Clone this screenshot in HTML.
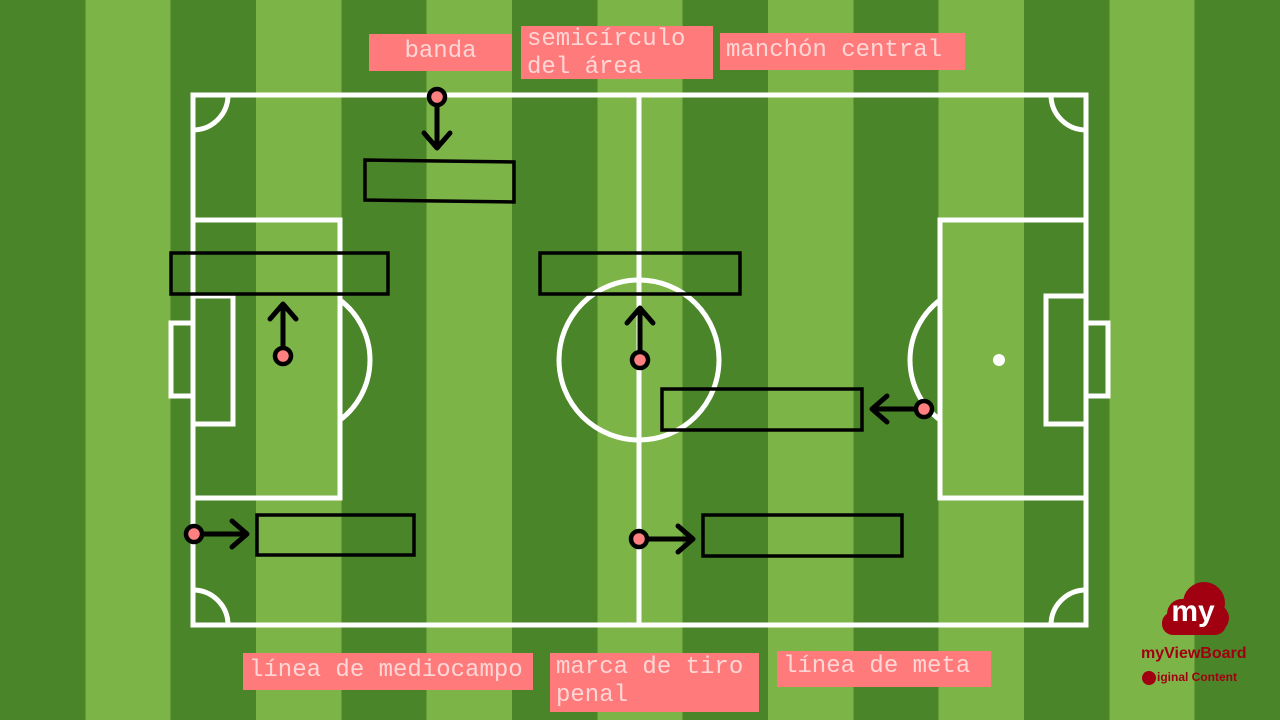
<!DOCTYPE html>
<html><head><meta charset="utf-8"><style>
html,body{margin:0;padding:0;width:1280px;height:720px;overflow:hidden}
.bg{position:absolute;left:0;top:0;width:1280px;height:720px;background:repeating-linear-gradient(90deg,#4a8529 0,#4a8529 85.33px,#7db448 85.33px,#7db448 170.67px)}
.l{position:absolute;background:#ff7b7b;color:#ffd6d6;font-family:"Liberation Mono",monospace;font-size:24px;line-height:28px;padding:4px 6px;box-sizing:border-box;white-space:pre}
svg{position:absolute;left:0;top:0}
.logo{position:absolute;font-family:"Liberation Sans",sans-serif;font-weight:bold;color:#a00010}
</style></head><body>
<div class="bg"></div>
<svg width="1280" height="720">
<g fill="none" stroke="#fff" stroke-width="5">
<rect x="193" y="95" width="893" height="530"/>
<line x1="639" y1="95" x2="639" y2="625"/>
<circle cx="639" cy="360" r="80"/>
<rect x="193" y="220" width="147" height="278"/>
<rect x="193" y="296" width="40" height="128"/>
<rect x="171" y="323" width="22" height="73"/>
<path d="M340 300 A75 75 0 0 1 340 420"/>
<rect x="940" y="220" width="146" height="278"/>
<rect x="1046" y="296" width="40" height="128"/>
<rect x="1086" y="323" width="22" height="73"/>
<path d="M940 300 A75 75 0 0 0 940 420"/>
<path d="M228 95 A35 35 0 0 1 193 130"/>
<path d="M1051 95 A35 35 0 0 0 1086 130"/>
<path d="M193 590 A35 35 0 0 1 228 625"/>
<path d="M1086 590 A35 35 0 0 0 1051 625"/>
</g>
<circle cx="999" cy="360" r="6" fill="#fff"/>
<g fill="none" stroke="#000" stroke-width="3.5">
<polygon points="365,160 514,162 514,202 365,200"/>
<rect x="171" y="253" width="217" height="41"/>
<rect x="540" y="253" width="200" height="41"/>
<rect x="662" y="389" width="200" height="41"/>
<rect x="257" y="515" width="157" height="40"/>
<rect x="703" y="515" width="199" height="41"/>
</g>
<g fill="none" stroke="#000" stroke-width="5" stroke-linecap="round" stroke-linejoin="round">
<path d="M437 97 V148 M424 133 L437 148 L450 133"/>
<path d="M283 356 V305 M270 319 L283 304 L296 319"/>
<path d="M640 360 V309 M627 323 L640 308 L653 323"/>
<path d="M924 409 H873 M887 396 L872 409 L887 422"/>
<path d="M194 534 H246 M232 521 L247 534 L232 547"/>
<path d="M639 539 H692 M678 526 L693 539 L678 552"/>
</g>
<g fill="#ff8080" stroke="#000" stroke-width="4.5">
<circle cx="437" cy="97" r="8"/><circle cx="283" cy="356" r="8"/><circle cx="640" cy="360" r="8"/>
<circle cx="924" cy="409" r="8"/><circle cx="194" cy="534" r="8"/><circle cx="639" cy="539" r="8"/>
</g>
<g fill="#a00010">
<circle cx="1182" cy="614" r="15"/><circle cx="1204" cy="603" r="21"/><circle cx="1215" cy="618" r="14"/>
<rect x="1162" y="612" width="64" height="23" rx="11"/>
<circle cx="1149" cy="678" r="7"/>
</g>
<text x="1193" y="621" fill="#fff" font-family="Liberation Sans,sans-serif" font-weight="bold" font-size="30" text-anchor="middle">my</text>
</svg>
<div class="l" style="left:369px;top:34px;width:143px;height:37px;text-align:center">banda</div>
<div class="l" style="left:521px;top:26px;width:192px;height:53px;padding-top:0">semicírculo
del área</div>
<div class="l" style="left:720px;top:33px;width:245px;height:37px">manchón central</div>
<div class="l" style="left:243px;top:653px;width:290px;height:37px">línea de mediocampo</div>
<div class="l" style="left:550px;top:653px;width:209px;height:59px;padding-top:1px">marca de tiro
penal</div>
<div class="l" style="left:777px;top:651px;width:214px;height:36px;padding-top:2px">línea de meta</div>
<div class="logo" style="left:1141px;top:645px;font-size:16px">myViewBoard</div>
<div class="logo" style="left:1157px;top:670px;font-size:12px">iginal Content</div>
</body></html>
